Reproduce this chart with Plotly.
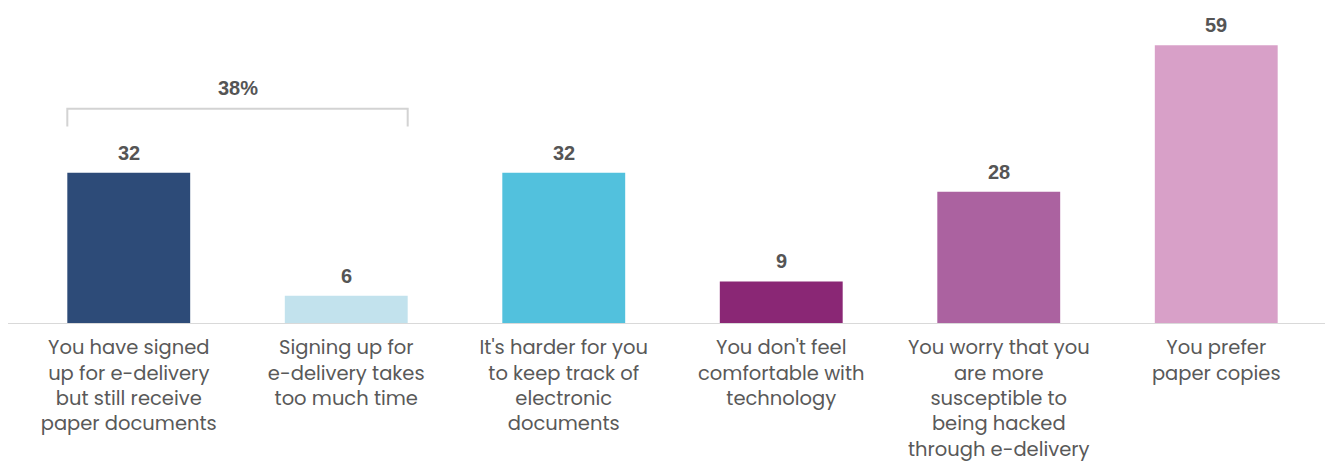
import plotly.graph_objects as go

categories = [
    "You have signed<br>up for e-delivery<br>but still receive<br>paper documents",
    "Signing up for<br>e-delivery takes<br>too much time",
    "It's harder for you<br>to keep track of<br>electronic<br>documents",
    "You don't feel<br>comfortable with<br>technology",
    "You worry that you<br>are more<br>susceptible to<br>being hacked<br>through e-delivery",
    "You prefer<br>paper copies",
]
values = [32, 6, 32, 9, 28, 59]
colors = ["#2D4B78", "#C2E2ED", "#52C1DD", "#8A2775", "#AB62A0", "#D8A0C8"]
group_total_label = "38%"

BAR_W = 0.565
x = list(range(len(categories)))

fig = go.Figure(
    go.Bar(
        x=x,
        y=values,
        width=BAR_W,
        marker=dict(color=colors, line=dict(width=0)),
        hoverinfo="skip",
    )
)

value_font = dict(family="Liberation Sans, Arial", size=20, color="#555555")

# value labels above bars
for i, v in enumerate(values):
    fig.add_annotation(
        x=i, y=v, text=f"<b>{v}</b>", showarrow=False,
        yanchor="middle", yshift=20,
        font=value_font,
    )

# bracket over the first two bars
top = max(values[:2])
bx0 = 0 - BAR_W / 2
bx1 = 1 + BAR_W / 2
by = top + 13.6
fig.add_shape(
    type="path",
    path=f"M {bx0},{by - 3.8} L {bx0},{by} L {bx1},{by} L {bx1},{by - 3.8}",
    xref="x", yref="y",
    line=dict(color="#D3D3D3", width=2),
)
fig.add_annotation(
    x=(bx0 + bx1) / 2, y=by, text=f"<b>{group_total_label}</b>", showarrow=False,
    yanchor="middle", yshift=21,
    font=value_font,
)

# baseline
fig.add_shape(
    type="line", xref="paper", yref="y",
    x0=-12 / 1305, x1=1, y0=0, y1=0,
    line=dict(color="#D9D9D9", width=2),
)

fig.update_layout(
    width=1325, height=461,
    margin=dict(l=20, r=0, t=0, b=137, autoexpand=False),
    paper_bgcolor="white", plot_bgcolor="white",
    showlegend=False,
    xaxis=dict(
        tickmode="array", tickvals=x, ticktext=categories,
        range=[-0.5, len(categories) - 0.5],
        showgrid=False, zeroline=False, showline=False,
        automargin=False,
        ticks="outside", ticklen=6, tickcolor="rgba(0,0,0,0)",
        tickfont=dict(family="Poppins, Inter, sans-serif", size=19.5, color="#595959"),
    ),
    yaxis=dict(range=[0, 68.6], visible=False, automargin=False),
)

fig.write_html("out.html")
